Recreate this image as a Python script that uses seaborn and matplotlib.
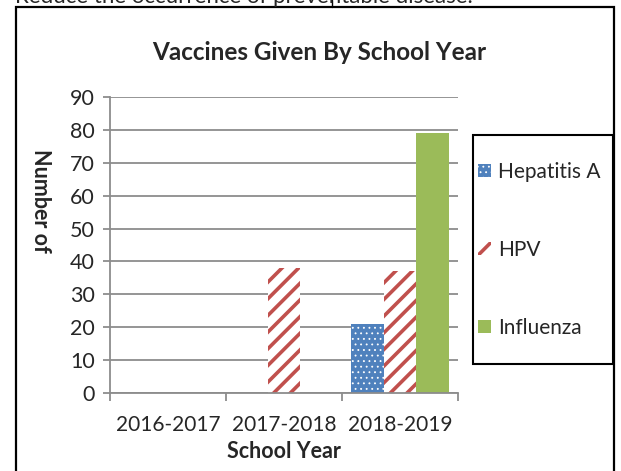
import pandas as pd
import numpy as np
import matplotlib.pyplot as plt
import seaborn as sns
from matplotlib.patches import Rectangle, Patch
from matplotlib.lines import Line2D

# Data
school_years = ['2016-2017', '2017-2018', '2018-2019']
vaccines = ['Hepatitis A', 'HPV', 'Influenza']
hep_a = [0, 0, 21]
hpv = [0, 38, 37]
influenza = [0, 0, 79]

colors = {'Hepatitis A': '#4F81BD', 'HPV': '#C0504D', 'Influenza': '#9BBB59'}

df = pd.DataFrame({
    'School Year': school_years * 3,
    'Vaccine': ['Hepatitis A'] * 3 + ['HPV'] * 3 + ['Influenza'] * 3,
    'Count': hep_a + hpv + influenza,
})

sns.set_theme(style="white")
plt.rcParams['font.family'] = ['Lato', 'DejaVu Sans']
plt.rcParams['hatch.linewidth'] = 2.6


def style_patch(p, vac):
    # dots for Hepatitis A, stripes for HPV, solid for Influenza
    if vac == 'Hepatitis A':
        p.set_facecolor(colors[vac])
        p.set_edgecolor('white')
        p.set_hatch('...')
        if hasattr(p, 'set_hatch_linewidth'):
            p.set_hatch_linewidth(0.6)
    elif vac == 'HPV':
        p.set_facecolor('white')
        p.set_edgecolor(colors[vac])
        p.set_hatch('//')
        if hasattr(p, 'set_hatch_linewidth'):
            p.set_hatch_linewidth(2.6)
    else:
        p.set_facecolor(colors[vac])
        p.set_edgecolor(colors[vac])
    p.set_linewidth(0)


fig = plt.figure(figsize=(6.21, 4.71), dpi=100)
ax = fig.add_axes([110 / 621, 1 - 393 / 471, 348 / 621, 296 / 471])

sns.barplot(data=df, x='School Year', y='Count', hue='Vaccine', order=school_years,
            hue_order=vaccines, width=0.85, ax=ax, legend=False, saturation=1)

for i, vac in enumerate(vaccines):
    for bar in ax.containers[i]:
        style_patch(bar, vac)

ax.set_ylim(0, 90)
ax.set_yticks(range(0, 91, 10))
ax.set_xlim(-0.5, 2.5)
ax.yaxis.grid(True, color='#8c8c8c', linewidth=1.3)
ax.set_axisbelow(True)
for side in ['top', 'right']:
    ax.spines[side].set_visible(False)
for side in ['left', 'bottom']:
    ax.spines[side].set_color('#8c8c8c')
    ax.spines[side].set_linewidth(1.3)

ax.tick_params(axis='y', left=True, length=5, width=1.3, color='#8c8c8c', labelsize=15.5, pad=6)
ax.tick_params(axis='x', bottom=False, labelsize=15, pad=10)
# category boundary ticks on the x axis
ax.set_xticks([-0.5, 0.5, 1.5, 2.5], minor=True)
ax.tick_params(axis='x', which='minor', bottom=True, length=6, width=1.3, color='#8c8c8c')

ax.set_xlabel('School Year', fontsize=15.5, fontweight='bold', labelpad=4)
ax.set_ylabel('')
fig.text(40 / 621, 1 - 201 / 471, 'Number of', rotation=-90, fontsize=15.5,
         fontweight='bold', ha='center', va='center')
fig.text(319 / 621, 1 - 53 / 471, 'Vaccines Given By School Year', fontsize=17.5,
         fontweight='bold', ha='center', va='center')

# legend: frame drawn separately so it can be as tall as the original
handles = []
for vac in vaccines:
    h = Patch()
    style_patch(h, vac)
    handles.append(h)
leg = fig.legend(handles, vaccines, loc='center left',
                 bbox_to_anchor=(478 / 621, 1 - 250 / 471),
                 fontsize=15, frameon=False, handlelength=0.6, handleheight=0.6,
                 handletextpad=0.35, labelspacing=2.78, borderpad=0, borderaxespad=0)
for h, vac in zip(leg.legend_handles, vaccines):
    style_patch(h, vac)
fig.add_artist(Rectangle((473 / 621, 1 - 364 / 471), 140 / 621, 229 / 471,
                         transform=fig.transFigure, fill=False, edgecolor='black',
                         linewidth=1.5))

# surrounding page border and the cut-off text above it
fig.add_artist(Rectangle((16 / 621, -0.05), 598 / 621, 1.05 - 7 / 471,
                         transform=fig.transFigure, fill=False, edgecolor='black',
                         linewidth=1.6, clip_on=False))
fig.add_artist(Line2D([332 / 621, 332 / 621], [1 - 7 / 471, 1.0],
                      transform=fig.transFigure, color='black', linewidth=1))
fig.text(15 / 621, 1 - 3 / 471, 'Reduce the occurrence of preventable disease.',
         fontsize=16, ha='left', va='baseline')

fig.savefig('out.png', dpi=100)
